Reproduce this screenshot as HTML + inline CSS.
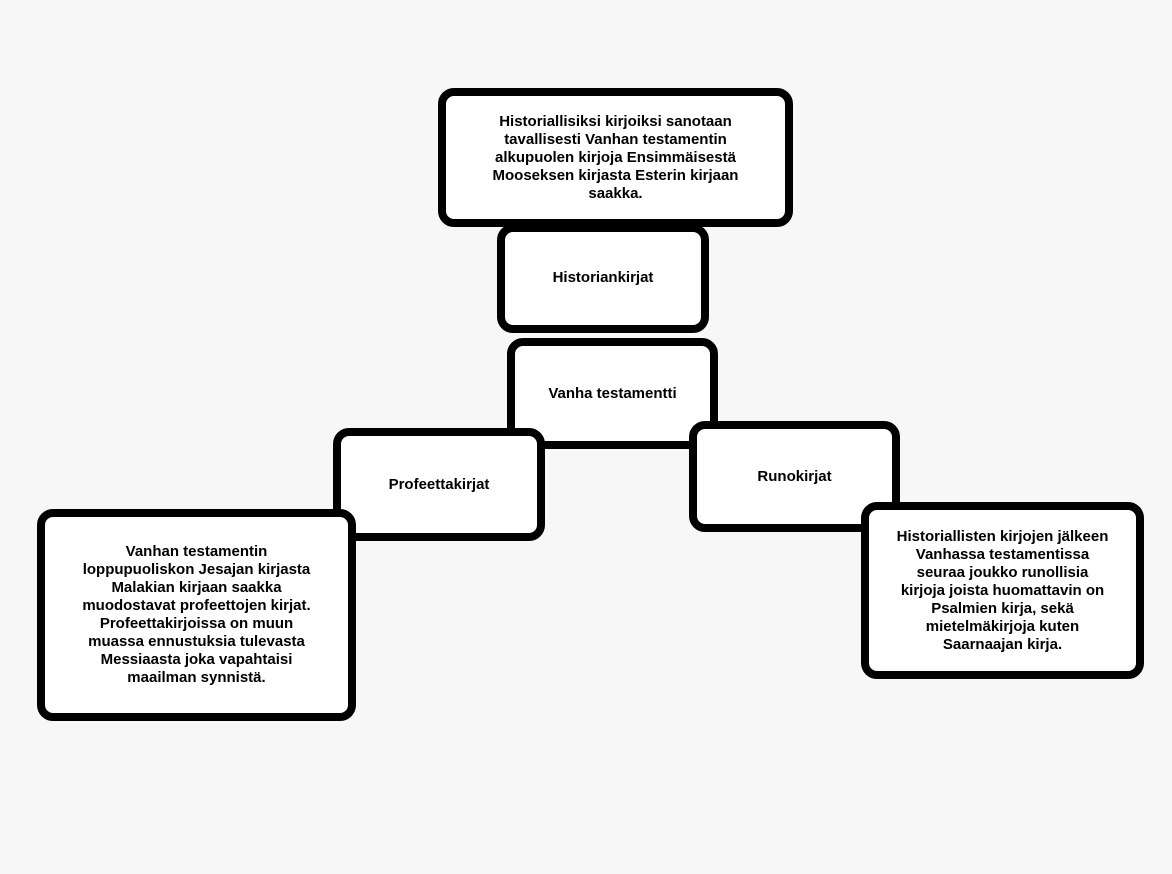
<!DOCTYPE html>
<html><head><meta charset="utf-8"><style>
html,body{margin:0;padding:0}
body{width:1172px;height:874px;background:#f7f7f7;position:relative;overflow:hidden;font-family:"Liberation Sans","DejaVu Sans",sans-serif}
.b{position:absolute;box-sizing:border-box;border:8px solid #000;border-radius:16px;background:#fff;display:flex;align-items:center;justify-content:center;text-align:center;font-weight:bold;font-size:15px;line-height:18px;color:#000;padding:0;white-space:nowrap}
</style></head><body>
<div class="b" style="left:497px;top:224px;width:212px;height:109px;z-index:1;padding-bottom:2px">Historiankirjat</div>
<div class="b" style="left:438px;top:88px;width:355px;height:139px;z-index:2;padding-bottom:0">Historiallisiksi kirjoiksi sanotaan<br>tavallisesti Vanhan testamentin<br>alkupuolen kirjoja Ensimmäisestä<br>Mooseksen kirjasta Esterin kirjaan<br>saakka.</div>
<div class="b" style="left:507px;top:338px;width:211px;height:111px;z-index:1;padding-bottom:0">Vanha testamentti</div>
<div class="b" style="left:333px;top:428px;width:212px;height:113px;z-index:2">Profeettakirjat</div>
<div class="b" style="left:689px;top:421px;width:211px;height:111px;z-index:2;padding-bottom:0">Runokirjat</div>
<div class="b" style="left:37px;top:509px;width:319px;height:212px;z-index:3;padding-bottom:0">Vanhan testamentin<br>loppupuoliskon Jesajan kirjasta<br>Malakian kirjaan saakka<br>muodostavat profeettojen kirjat.<br>Profeettakirjoissa on muun<br>muassa ennustuksia tulevasta<br>Messiaasta joka vapahtaisi<br>maailman synnistä.</div>
<div class="b" style="left:861px;top:502px;width:283px;height:177px;z-index:3;padding-bottom:0">Historiallisten kirjojen jälkeen<br>Vanhassa testamentissa<br>seuraa joukko runollisia<br>kirjoja joista huomattavin on<br>Psalmien kirja, sekä<br>mietelmäkirjoja kuten<br>Saarnaajan kirja.</div>
</body></html>
